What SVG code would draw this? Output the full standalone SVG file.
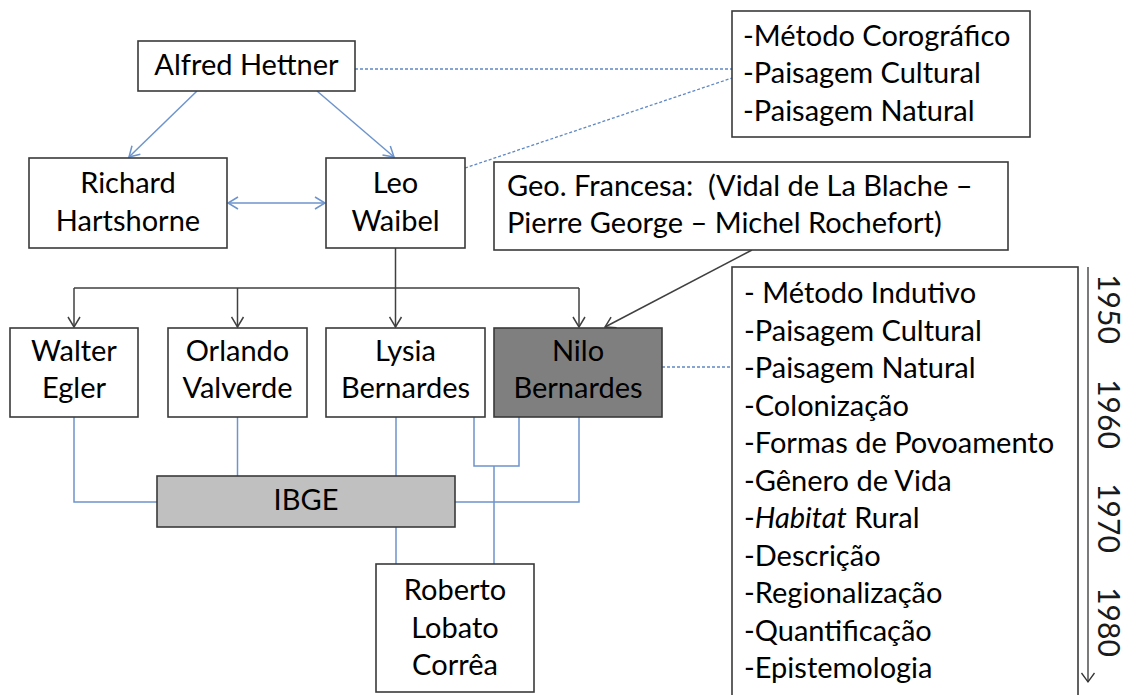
<svg xmlns="http://www.w3.org/2000/svg" width="1126" height="695" viewBox="0 0 1126 695">
<defs>
<style>
.box{fill:#ffffff;stroke:#3a3a3a;stroke-width:1.6}
.t{font-family:Lato,"Liberation Sans",sans-serif;font-size:29px;fill:#000}
.m{text-anchor:middle}
.blue{fill:none;stroke:#6d94cc;stroke-width:1.5}
.dash{fill:none;stroke:#5f88c4;stroke-width:1.3;stroke-dasharray:3 2}
.dark{fill:none;stroke:#404040;stroke-width:1.5}
.yr{font-family:Lato,"Liberation Sans",sans-serif;font-size:30px;fill:#1a1a1a;text-anchor:middle}
</style>
<marker id="ab" viewBox="0 0 12 14" refX="11" refY="7" markerWidth="12" markerHeight="14" markerUnits="userSpaceOnUse" orient="auto-start-reverse">
<path d="M1,1 L11,7 L1,13" fill="none" stroke="#6d94cc" stroke-width="1.5"/>
</marker>
<marker id="ak" viewBox="0 0 12 14" refX="11" refY="7" markerWidth="12" markerHeight="14" markerUnits="userSpaceOnUse" orient="auto">
<path d="M1,1 L11,7 L1,13" fill="none" stroke="#404040" stroke-width="1.5"/>
</marker>
</defs>
<rect width="1126" height="695" fill="#ffffff"/>

<g id="connectors">
<line class="blue" x1="197" y1="91" x2="129" y2="157" marker-end="url(#ab)"/>
<line class="blue" x1="317" y1="91" x2="394" y2="157" marker-end="url(#ab)"/>
<line class="blue" x1="228" y1="203" x2="325" y2="203" marker-start="url(#ab)" marker-end="url(#ab)"/>
<line class="dash" x1="355" y1="69" x2="732" y2="69"/>
<line class="dash" x1="465" y1="168" x2="732" y2="78"/>
<line class="dash" x1="662" y1="367" x2="732" y2="367"/>
<path class="dark" d="M395.5,248 V288 M74,288 H579"/>
<line class="dark" x1="74" y1="288" x2="74" y2="327" marker-end="url(#ak)"/>
<line class="dark" x1="237.5" y1="288" x2="237.5" y2="327" marker-end="url(#ak)"/>
<line class="dark" x1="395.5" y1="288" x2="395.5" y2="327" marker-end="url(#ak)"/>
<line class="dark" x1="579" y1="288" x2="579" y2="327" marker-end="url(#ak)"/>
<line class="dark" x1="752" y1="250" x2="605" y2="327" marker-end="url(#ak)"/>
<path class="blue" d="M74,417 V502 H157"/>
<path class="blue" d="M237.5,417 V476"/>
<path class="blue" d="M396,417 V476 M396,527 V564"/>
<path class="blue" d="M474,417 V466 H519 V417 M494,466 V564"/>
<path class="blue" d="M579,417 V502 H455"/>
<line x1="1088" y1="267" x2="1088" y2="682" stroke="#333" stroke-width="1.3"/>
<path d="M1081.5,673 L1088,682 L1094.5,673" fill="none" stroke="#333" stroke-width="1.3"/>
</g>

<g id="alfred">
<rect class="box" x="138" y="41" width="217" height="50"/>
<text class="t m" x="246.5" y="75">Alfred Hettner</text>
</g>
<g id="hettner-notes">
<rect class="box" x="732" y="11" width="298" height="126"/>
<text class="t" x="743" y="46">-Método Corográfico</text>
<text class="t" x="743" y="83">-Paisagem Cultural</text>
<text class="t" x="743" y="121">-Paisagem Natural</text>
</g>
<g id="richard">
<rect class="box" x="29" y="158" width="198" height="90"/>
<text class="t m" x="128" y="193">Richard</text>
<text class="t m" x="128" y="231">Hartshorne</text>
</g>
<g id="leo">
<rect class="box" x="326" y="158" width="139" height="90"/>
<text class="t m" x="395.5" y="193">Leo</text>
<text class="t m" x="395.5" y="231">Waibel</text>
</g>
<g id="geo-francesa">
<rect class="box" x="494" y="162" width="514" height="88"/>
<text class="t" x="507" y="196" xml:space="preserve">Geo. Francesa:  (Vidal de La Blache –</text>
<text class="t" x="507" y="233">Pierre George – Michel Rochefort)</text>
</g>
<g id="walter">
<rect class="box" x="10" y="328" width="128" height="89"/>
<text class="t m" x="74" y="361">Walter</text>
<text class="t m" x="74" y="398">Egler</text>
</g>
<g id="orlando">
<rect class="box" x="168" y="328" width="139" height="89"/>
<text class="t m" x="237.5" y="361">Orlando</text>
<text class="t m" x="237.5" y="398">Valverde</text>
</g>
<g id="lysia">
<rect class="box" x="326" y="328" width="159" height="89"/>
<text class="t m" x="405.5" y="361">Lysia</text>
<text class="t m" x="405.5" y="398">Bernardes</text>
</g>
<g id="nilo">
<rect class="box" x="494" y="328" width="168" height="89" style="fill:#7f7f7f"/>
<text class="t m" x="578" y="361">Nilo</text>
<text class="t m" x="578" y="398">Bernardes</text>
</g>
<g id="ibge">
<rect class="box" x="157" y="476" width="298" height="51" style="fill:#c0c0c0"/>
<text class="t m" x="306" y="510">IBGE</text>
</g>
<g id="roberto">
<rect class="box" x="376" y="564" width="158" height="128"/>
<text class="t m" x="455" y="600">Roberto</text>
<text class="t m" x="455" y="638">Lobato</text>
<text class="t m" x="455" y="675">Corrêa</text>
</g>
<g id="nilo-notes">
<rect class="box" x="732" y="267" width="346" height="440"/>
<text class="t" x="744" y="303" xml:space="preserve">- Método Indutivo</text>
<text class="t" x="744" y="341">-Paisagem Cultural</text>
<text class="t" x="744" y="378">-Paisagem Natural</text>
<text class="t" x="744" y="416">-Colonização</text>
<text class="t" x="744" y="453">-Formas de Povoamento</text>
<text class="t" x="744" y="491">-Gênero de Vida</text>
<text class="t" x="744" y="528">-<tspan font-style="italic">Habitat</tspan> Rural</text>
<text class="t" x="744" y="566">-Descrição</text>
<text class="t" x="744" y="603">-Regionalização</text>
<text class="t" x="744" y="641">-Quantificação</text>
<text class="t" x="744" y="678">-Epistemologia</text>
</g>
<g id="years">
<text class="yr" transform="translate(1098,309) rotate(90)">1950</text>
<text class="yr" transform="translate(1098,414) rotate(90)">1960</text>
<text class="yr" transform="translate(1098,518) rotate(90)">1970</text>
<text class="yr" transform="translate(1098,622) rotate(90)">1980</text>
</g>
</svg>
